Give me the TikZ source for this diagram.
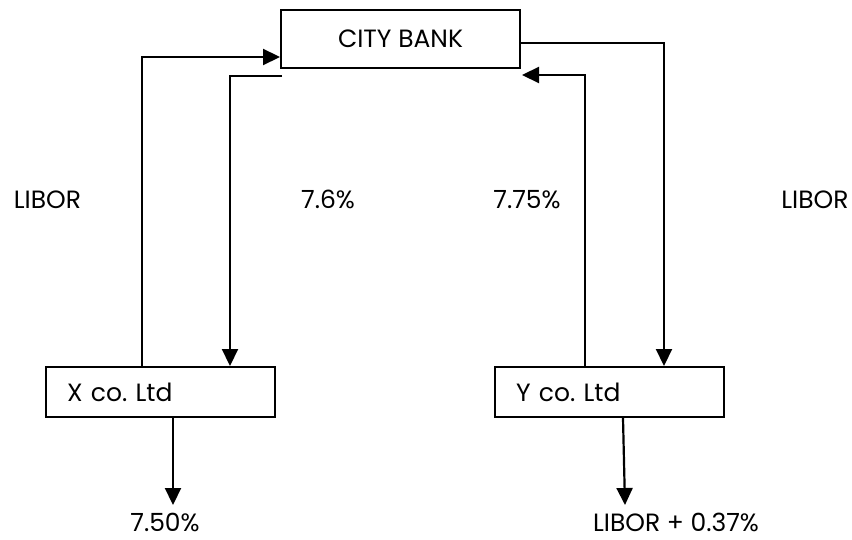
\documentclass[tikz,border=0pt]{standalone}
\usepackage{fontspec}
\setmainfont{Poppins}
\usepackage{tikz}
\usetikzlibrary{arrows.meta,calc}
\tikzstyle{bankbox}=[rectangle, draw, line width=2pt,% the bank on top
minimum width=239pt, minimum height=58pt]
\tikzstyle{firm}=[rectangle, draw, line width=2pt,% the two companies
minimum height=50pt, inner xsep=21pt, inner ysep=0pt, text width=187pt, align=left]
\tikzstyle{flow}=[-{Triangle[length=17pt,width=16pt]}, line width=2.2pt]
\tikzstyle{rate}=[inner sep=0pt, anchor=base]

\begin{document}
\begin{tikzpicture}[x=1pt, y=-1pt, font=\fontsize{25}{30}\selectfont]
\useasboundingbox (0,0) rectangle (852,540);
\node[bankbox] (bank) at (400.5,39) {CITY BANK};
\node[firm] (xco) at (160.5,392) {X co.\ Ltd};
\node[firm] (yco) at (609.5,392) {Y co.\ Ltd};
\node[rate] (l1) at (47.5,209) {LIBOR};
\node[rate] (l2) at (328,209) {7.6\%};
\node[rate] (l3) at (527,209) {7.75\%};
\node[rate] (l4) at (815,209) {LIBOR};
\node[rate] (r1) at (165,531) {7.50\%};
\node[rate] (r2) at (676,531) {LIBOR + 0.37\%};
\coordinate (c1) at (282,76);
\coordinate (c2) at (522,75);
\coordinate (e1) at (173,505);
\coordinate (e2) at (625,505);
\draw[flow] ([xshift=-18.5pt]xco.north) |- ([yshift=-18pt]bank.west);
\draw[flow] (c1) -| ([xshift=69.5pt]xco.north);
\draw[flow] ([yshift=-4pt]bank.east) -| ([xshift=54.5pt]yco.north);
\draw[flow] ([xshift=-24.5pt]yco.north) |- (c2);
\draw[flow] ([xshift=12.5pt]xco.south) -- (e1);
\draw[flow] ([xshift=13.5pt]yco.south) -- (e2);
\end{tikzpicture}
\end{document}
